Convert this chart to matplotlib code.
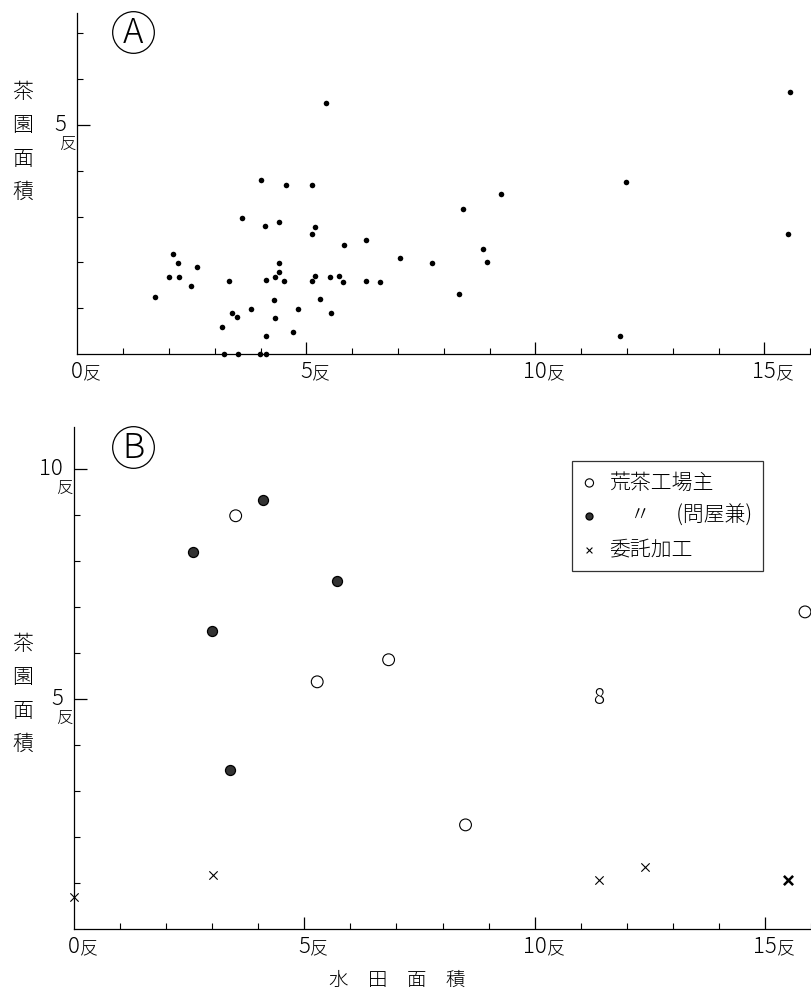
import matplotlib
matplotlib.use("Agg")
import matplotlib.pyplot as plt
from matplotlib.lines import Line2D

plt.rcParams['font.family'] = ['Noto Sans CJK JP', 'DejaVu Sans']
plt.rcParams['font.weight'] = 'light'

# panel A: paddy area (x) vs tea garden area (y), in 反
a_x = [1.70, 2.10, 2.00, 2.20, 2.21, 2.48, 2.61, 3.17, 3.31, 3.38, 3.49, 3.60,
       3.80, 3.20, 3.50, 4.02, 4.10, 4.11, 4.11, 4.11, 3.98, 4.41, 4.41, 4.40,
       4.32, 4.29, 4.32, 4.51, 4.56, 4.70, 4.82, 5.12, 5.12, 5.20, 5.12, 5.20,
       5.31, 5.43, 5.52, 5.54, 5.72, 5.81, 5.82, 6.31, 6.31, 6.62, 7.04, 7.74,
       8.34, 8.43, 8.85, 8.95, 9.26, 11.97, 11.85, 15.56, 15.52]
a_y = [1.24, 2.18, 1.68, 1.98, 1.69, 1.49, 1.89, 0.58, 1.60, 0.90, 0.81, 2.98,
       0.98, 0.00, 0.00, 3.79, 2.79, 1.61, 0.39, 0.00, 0.00, 2.88, 1.98, 1.80,
       1.68, 1.18, 0.78, 1.59, 3.69, 0.49, 0.98, 3.70, 2.61, 2.78, 1.60, 1.70,
       1.19, 5.49, 1.69, 0.89, 1.70, 1.58, 2.37, 2.49, 1.60, 1.58, 2.09, 1.99,
       1.30, 3.17, 2.29, 2.00, 3.49, 3.76, 0.39, 5.71, 2.63]

# panel B
owner_x = [3.51, 6.83, 5.28, 8.50, 15.87]
owner_y = [8.99, 5.86, 5.38, 2.27, 6.90]
wholesale_x = [4.11, 2.59, 5.71, 2.99, 3.39]
wholesale_y = [9.33, 8.20, 7.57, 6.48, 3.46]
consign_x = [0.00, 3.02, 11.39, 12.40, 15.50]
consign_y = [0.71, 1.17, 1.07, 1.36, 1.07]
stray_label = ("8", 11.39, 5.02)

legend_labels = ["荒茶工場主", "　〃　 (問屋兼)", "委託加工"]
x_tick_vals = [0, 5, 10, 15]
a_y_tick_vals = [5]
b_y_tick_vals = [5, 10]

W, H = 811, 992
fig = plt.figure(figsize=(W / 100, H / 100), dpi=100)

def px_axes(left, bottom, top):
    return fig.add_axes([left / W, 1 - bottom / H, 1 - left / W, (bottom - top) / H])

axA = px_axes(77.3, 354, 13)
axA.set_xlim(0, (W - 77.3) / 45.8)
axA.set_ylim(0, (354 - 13) / 45.8)

axB = px_axes(74, 929.3, 426.7)
axB.set_xlim(0, (W - 74) / 46.2)
axB.set_ylim(0, (929.3 - 426.7) / 46.0)


def style_axes(ax, ymax_tick, ymajors):
    for s in ['top', 'right']:
        ax.spines[s].set_visible(False)
    for s in ['left', 'bottom']:
        ax.spines[s].set_linewidth(0.9)
    ax.set_xticks([5, 10, 15])
    ax.set_xticks(range(1, 17), minor=True)
    ax.set_yticks(ymajors)
    ax.set_yticks(range(1, ymax_tick + 1), minor=True)
    ax.tick_params(which='major', direction='in', length=9, width=0.9,
                   labelbottom=False, labelleft=False)
    ax.tick_params(which='minor', direction='in', length=4.5, width=0.8)

    for v in x_tick_vals:
        num = ax.annotate(str(v), xy=(v, 0), xycoords=('data', 'axes fraction'),
                          xytext=(0, -5), textcoords='offset points',
                          ha='center', va='top', fontsize=16)
        ax.annotate('反', xy=(1, -0.02), xycoords=num, ha='left', va='bottom',
                    fontsize=13)
    for v in ymajors:
        ax.annotate(str(v), xy=(0, v), xycoords=('axes fraction', 'data'),
                    xytext=(-8, 0), textcoords='offset points',
                    ha='right', va='center', fontsize=16)
        ax.annotate('反', xy=(0, v), xycoords=('axes fraction', 'data'),
                    xytext=(-1, -8), textcoords='offset points',
                    ha='right', va='top', fontsize=12)


style_axes(axA, 7, a_y_tick_vals)
style_axes(axB, 10, b_y_tick_vals)

axA.scatter(a_x, a_y, s=16, c='black', linewidths=0, clip_on=False, zorder=3)

axB.scatter(owner_x, owner_y, s=72, facecolors='none', edgecolors='black',
            linewidths=0.8, clip_on=False, zorder=3, label=legend_labels[0])
axB.scatter(wholesale_x, wholesale_y, s=52, c='#333333', edgecolors='black',
            linewidths=0.9, clip_on=False, zorder=3, label=legend_labels[1])
axB.scatter(consign_x, consign_y, s=36, marker='x', c='black',
            linewidths=0.8, clip_on=False, zorder=3, label=legend_labels[2])
# the last one is printed heavier
axB.scatter(consign_x[-1:], consign_y[-1:], s=44, marker='x', c='black',
            linewidths=1.8, clip_on=False, zorder=3)
axB.text(stray_label[1], stray_label[2], stray_label[0], ha='center',
         va='center', fontsize=15)

leg = axB.legend(loc='upper left', bbox_to_anchor=(571.7 / W, 1 - 461 / H),
                 bbox_transform=fig.transFigure, fontsize=15, frameon=True,
                 fancybox=False, edgecolor='black', handlelength=0.7,
                 handletextpad=0.6, labelspacing=0.55, borderpad=0.5,
                 markerscale=0.7, borderaxespad=0)
leg.get_frame().set_linewidth(0.9)

# circled panel letters
for letter, cy in [('A', 32), ('B', 447)]:
    fig.add_artist(Line2D([133 / W], [1 - cy / H], transform=fig.transFigure,
                          marker='o', ms=30, mfc='none', mec='black', mew=0.9,
                          lw=0))
    fig.text(133 / W, 1 - (cy + 1) / H, letter, ha='center', va='center',
             fontsize=25)

# axis titles
for cy in [142, 694]:
    fig.text(23 / W, 1 - cy / H, "茶\n園\n面\n積", ha='center', va='center',
             fontsize=15, linespacing=1.68)
fig.text(397 / W, 1 - 980 / H, "水　田　面　積", ha='center', va='center',
         fontsize=14)

fig.savefig("out.png", dpi=100)
